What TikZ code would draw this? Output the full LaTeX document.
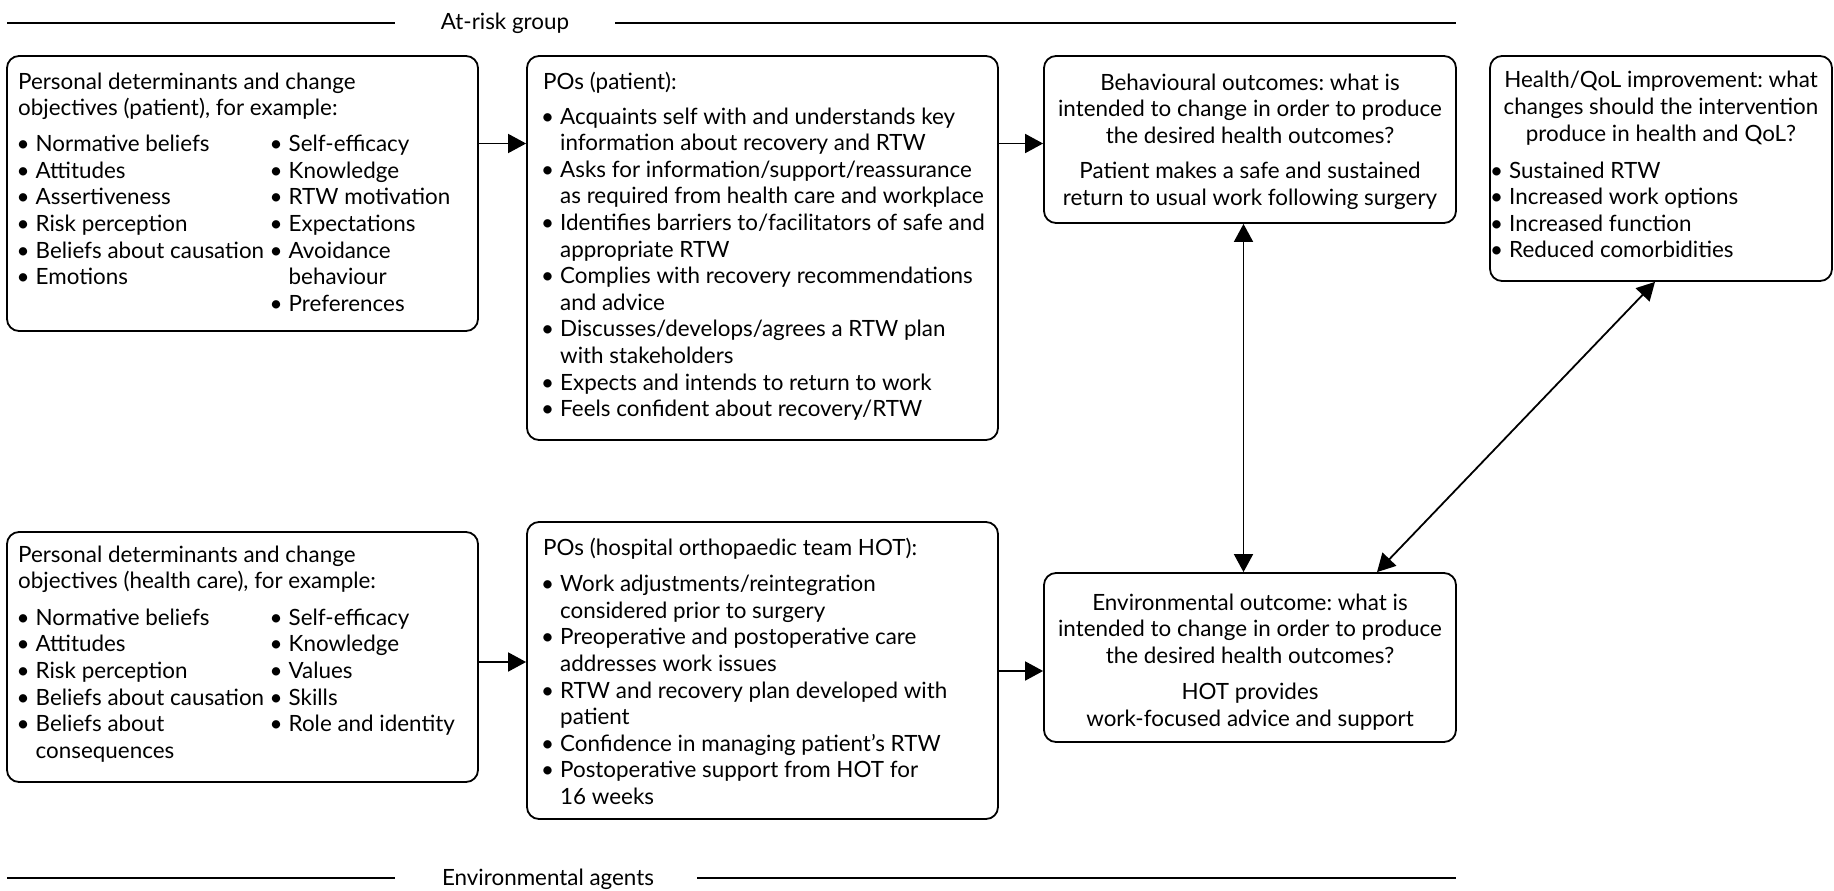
\documentclass[tikz,border=0pt]{standalone}
\usepackage{fontspec}
\setmainfont{Lato}
\usepackage{array}
\usetikzlibrary{arrows.meta,fit}
\frenchspacing
% zero-width bullet hanging left of the item text
\newcommand{\bul}{\makebox[0pt][r]{\textbullet\hspace{6pt}}}
\newcommand{\hd}[1]{\multicolumn{2}{@{}l@{}}{#1}}
\newcommand{\hdone}[1]{\multicolumn{1}{@{}l@{}}{#1}}

\begin{document}
\begin{tikzpicture}[x=1pt,y=-1pt,
  box/.style={draw, line width=1.8pt, rounded corners=12pt, inner sep=0pt},
  txt/.style={inner sep=0pt, font=\fontsize{22.4pt}{26.6pt}\selectfont},
  tip/.tip={Triangle[length=18pt,width=19pt]},
  arr/.style={line width=1.8pt, -tip},
  darr/.style={line width=1.8pt, tip-tip},
  rulel/.style={line width=1.8pt}]
\useasboundingbox (0,0) rectangle (1834,891);

% group rules and labels
\node[txt, anchor=base] (atrisk) at (505,29.5) {At-risk group};
\draw[rulel] (7,23) -- (395,23);
\draw[rulel] (615,23) -- (1456,23);
\node[txt, anchor=base] (envag) at (548,885.5) {Environmental agents};
\draw[rulel] (7,878) -- (395,878);
\draw[rulel] (697,878) -- (1456,878);

% boxes
\node[box, fit={(7,56)(478,331)}] (pdpat) {};
\node[box, fit={(527,56)(998,440)}] (popat) {};
\node[box, fit={(1044,56)(1456,223)}] (behav) {};
\node[box, fit={(1490,56)(1832,281)}] (health) {};
\node[box, fit={(7,532)(478,782)}] (pdhc) {};
\node[box, fit={(527,522)(998,819)}] (pohot) {};
\node[box, fit={(1044,573)(1456,742)}] (envout) {};

% box texts
\node[txt, anchor=base west] (pdpat-t) at (18,89) {%
\begin{tabular}[t]{@{\hspace{17.5pt}}w{l}{253pt}@{}l@{}}
\hd{Personal determinants and change}\\
\hd{objectives (patient), for example:}\\[9.5pt]
\bul Normative beliefs & \bul Self-efficacy\\
\bul Attitudes & \bul Knowledge\\
\bul Assertiveness & \bul RTW motivation\\
\bul Risk perception & \bul Expectations\\
\bul Beliefs about causation & \bul Avoidance\\
\bul Emotions & behaviour\\
 & \bul Preferences
\end{tabular}};

\node[txt, anchor=base west] (popat-t) at (543,89) {%
\begin{tabular}[t]{@{\hspace{17pt}}l@{}}
\hdone{POs (patient):}\\[8.5pt]
\bul Acquaints self with and understands key\\
information about recovery and RTW\\
\bul Asks for information/support/reassurance\\
as required from health care and workplace\\
\bul Identifies barriers to/facilitators of safe and\\
appropriate RTW\\
\bul Complies with recovery recommendations\\
and advice\\
\bul Discusses/develops/agrees a RTW plan\\
with stakeholders\\
\bul Expects and intends to return to work\\
\bul Feels confident about recovery/RTW
\end{tabular}};

\node[txt, anchor=base] (behav-t) at (1250,90) {%
\begin{tabular}[t]{@{}c@{}}
Behavioural outcomes: what is\\
intended to change in order to produce\\
the desired health outcomes?\\[9pt]
Patient makes a safe and sustained\\
return to usual work following surgery
\end{tabular}};

\node[txt, anchor=base] (health-t) at (1661,88) {%
\begin{tabular}[t]{@{}c@{}}
Health/QoL improvement: what\\
changes should the intervention\\
produce in health and QoL?
\end{tabular}};
\node[txt, anchor=base west] (health-l) at (1509,178) {%
\begin{tabular}[t]{@{}l@{}}
\bul Sustained RTW\\
\bul Increased work options\\
\bul Increased function\\
\bul Reduced comorbidities
\end{tabular}};

\node[txt, anchor=base west] (pdhc-t) at (18,562) {%
\begin{tabular}[t]{@{\hspace{17.5pt}}w{l}{253pt}@{}l@{}}
\hd{Personal determinants and change}\\
\hd{objectives (health care), for example:}\\[10pt]
\bul Normative beliefs & \bul Self-efficacy\\
\bul Attitudes & \bul Knowledge\\
\bul Risk perception & \bul Values\\
\bul Beliefs about causation & \bul Skills\\
\bul Beliefs about & \bul Role and identity\\
consequences &
\end{tabular}};

\node[txt, anchor=base west] (pohot-t) at (543,555) {%
\begin{tabular}[t]{@{\hspace{17pt}}l@{}}
\hdone{POs (hospital orthopaedic team HOT):}\\[10pt]
\bul Work adjustments/reintegration\\
considered prior to surgery\\
\bul Preoperative and postoperative care\\
addresses work issues\\
\bul RTW and recovery plan developed with\\
patient\\
\bul Confidence in managing patient’s RTW\\
\bul Postoperative support from HOT for\\
16 weeks
\end{tabular}};

\node[txt, anchor=base] (envout-t) at (1250,610) {%
\begin{tabular}[t]{@{}c@{}}
Environmental outcome: what is\\
intended to change in order to produce\\
the desired health outcomes?\\[10pt]
HOT provides\\
work-focused advice and support
\end{tabular}};

% connectors
\coordinate (ya) at (0,143.5);
\coordinate (yb) at (0,662);
\coordinate (yc) at (0,671);
\coordinate (xv) at (1243.5,0);
\coordinate (xd1) at (1655,0);
\coordinate (xd2) at (1377,0);
\draw[arr] (pdpat.east |- ya) -- (popat.west |- ya);
\draw[arr] (popat.east |- ya) -- (behav.west |- ya);
\draw[arr] (pdhc.east |- yb) -- (pohot.west |- yb);
\draw[arr] (pohot.east |- yc) -- (envout.west |- yc);
\draw[darr] (behav.south -| xv) -- (envout.north -| xv);
\draw[darr] (health.south -| xd1) -- (envout.north -| xd2);
\end{tikzpicture}
\end{document}
